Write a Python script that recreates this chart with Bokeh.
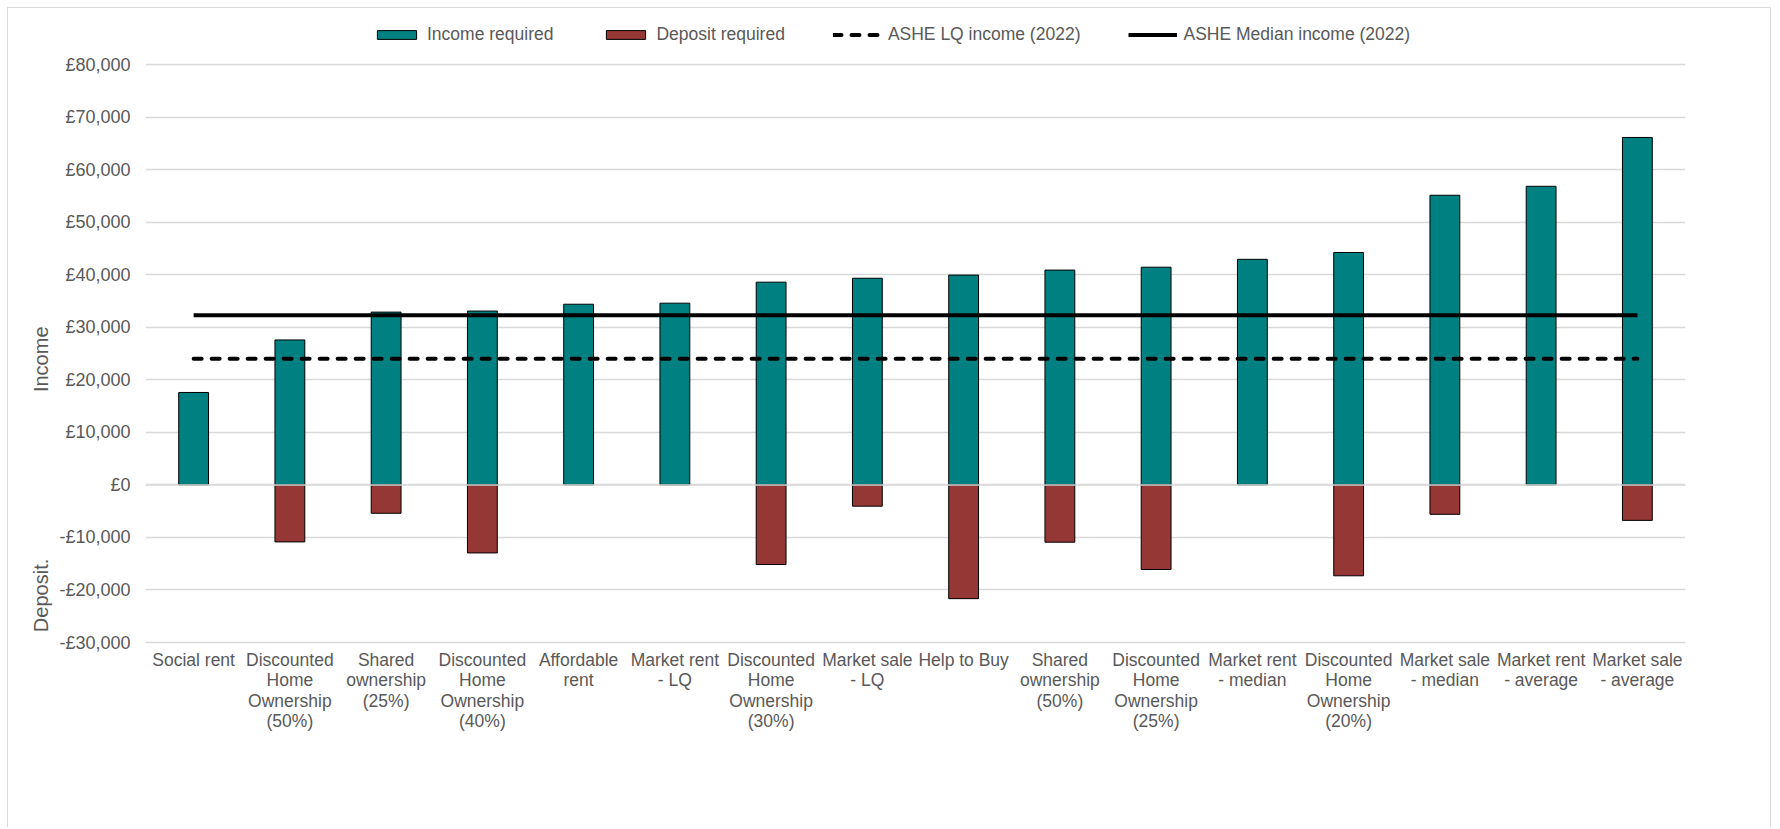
from bokeh.embed import file_html
from bokeh.models import FixedTicker, Legend, LegendItem, Range1d, Span
from bokeh.plotting import figure
from bokeh.resources import INLINE

# --- data -------------------------------------------------------------------
categories = [
    "Social rent",
    "Discounted\nHome\nOwnership\n(50%)",
    "Shared\nownership\n(25%)",
    "Discounted\nHome\nOwnership\n(40%)",
    "Affordable\nrent",
    "Market rent\n- LQ",
    "Discounted\nHome\nOwnership\n(30%)",
    "Market sale\n- LQ",
    "Help to Buy",
    "Shared\nownership\n(50%)",
    "Discounted\nHome\nOwnership\n(25%)",
    "Market rent\n- median",
    "Discounted\nHome\nOwnership\n(20%)",
    "Market sale\n- median",
    "Market rent\n- average",
    "Market sale\n- average",
]
income_required = [17600, 27600, 32900, 33100, 34400, 34600, 38600, 39350,
                   39950, 40900, 41450, 42950, 44250, 55150, 56850, 66150]
deposit_required = [0, -10850, -5400, -12950, 0, 0, -15150, -4050,
                    -21650, -10900, -16100, 0, -17300, -5600, 0, -6750]
ashe_lq_income = 24000
ashe_median_income = 32300
y_ticks = [-30000, -20000, -10000, 0, 10000, 20000, 30000, 40000,
           50000, 60000, 70000, 80000]

# --- styling ----------------------------------------------------------------
FONT = "Liberation Sans"
TEXT = "#595959"
GRID = "#d9d9d9"
TEAL = "#008080"
RED = "#953735"
BAR_W = 0.31
# the frame runs up to the top edge so the legend can sit above the £80,000 line
Y_LO, Y_HI = -30380, 90700
NBSP = "\u00a0"


def money(v):
    s = f"£{abs(v):,}"
    return "-" + s if v < 0 else s


n = len(categories)
xs = list(range(n))

p = figure(
    width=1764, height=820,
    x_range=Range1d(-0.5, n - 0.5),
    y_range=Range1d(Y_LO, Y_HI),
    output_backend="svg", toolbar_location=None,
    min_border_left=137, min_border_right=87,
    min_border_top=0, min_border_bottom=184,
)
p.margin = (7, 0, 0, 7)
p.styles = {
    "border-top": f"1.5px solid {GRID}",
    "border-left": f"1.5px solid {GRID}",
    "border-right": f"1.5px solid {GRID}",
}
p.outline_line_color = None
p.background_fill_color = "white"
p.border_fill_color = "white"

# bars
r_income = p.vbar(x=xs, top=income_required, bottom=0, width=BAR_W,
                  fill_color=TEAL, line_color="black", line_width=1)
dep_x = [x for x, d in zip(xs, deposit_required) if d != 0]
dep_v = [d for d in deposit_required if d != 0]
r_deposit = p.vbar(x=dep_x, top=0, bottom=dep_v, width=BAR_W,
                   fill_color=RED, line_color="black", line_width=1)

# zero line over the bars
p.add_layout(Span(location=0, dimension="width", line_color=GRID,
                  line_width=1.5))

# benchmark incomes
r_lq = p.line(x=[xs[0], xs[-1]], y=[ashe_lq_income, ashe_lq_income],
              line_color="black", line_width=4, line_dash="8 10",
              line_cap="round")
r_med = p.line(x=[xs[0], xs[-1]], y=[ashe_median_income, ashe_median_income],
               line_color="black", line_width=4)

# axes
p.xgrid.visible = False
p.ygrid.grid_line_color = GRID
p.ygrid.grid_line_width = 1.5

p.yaxis.ticker = FixedTicker(ticks=y_ticks)
p.yaxis.major_label_overrides = {v: money(v) for v in y_ticks}
p.xaxis.ticker = FixedTicker(ticks=xs)
p.xaxis.major_label_overrides = {i: c for i, c in zip(xs, categories)}

for ax in (p.xaxis, p.yaxis):
    ax.axis_line_color = None
    ax.major_tick_line_color = None
    ax.minor_tick_line_color = None
    ax.major_tick_out = 0
    ax.major_tick_in = 0
    ax.major_label_text_color = TEXT
    ax.major_label_text_font = FONT

p.yaxis.major_label_text_font_size = "18px"
p.yaxis.major_label_standoff = 15
p.xaxis.major_label_text_font_size = "17.5px"
p.xaxis.major_label_text_line_height = 1.03
p.xaxis.major_label_standoff = 5

# one axis title spaced out into "Deposit." (lower half) and "Income" (upper)
p.yaxis.axis_label = "Deposit." + NBSP * 30 + "Income" + NBSP * 55
p.yaxis.axis_label_text_font = FONT
p.yaxis.axis_label_text_font_size = "20px"
p.yaxis.axis_label_text_font_style = "normal"
p.yaxis.axis_label_text_color = TEXT
p.yaxis.axis_label_standoff = 4

# legend across the top of the chart
legend = Legend(
    items=[
        LegendItem(label="Income required", renderers=[r_income]),
        LegendItem(label="Deposit required", renderers=[r_deposit]),
        LegendItem(label="ASHE LQ income (2022)", renderers=[r_lq]),
        LegendItem(label="ASHE Median income (2022)", renderers=[r_med]),
    ],
    orientation="horizontal",
    location=(227, 599),
    glyph_width=49, glyph_height=11,
    label_standoff=6, spacing=48, padding=4, margin=0,
    label_text_font=FONT, label_text_font_size="17.5px",
    label_text_color=TEXT,
    border_line_color=None, background_fill_alpha=0,
)
p.add_layout(legend, "center")

open("out.html", "w").write(file_html(p, INLINE))
